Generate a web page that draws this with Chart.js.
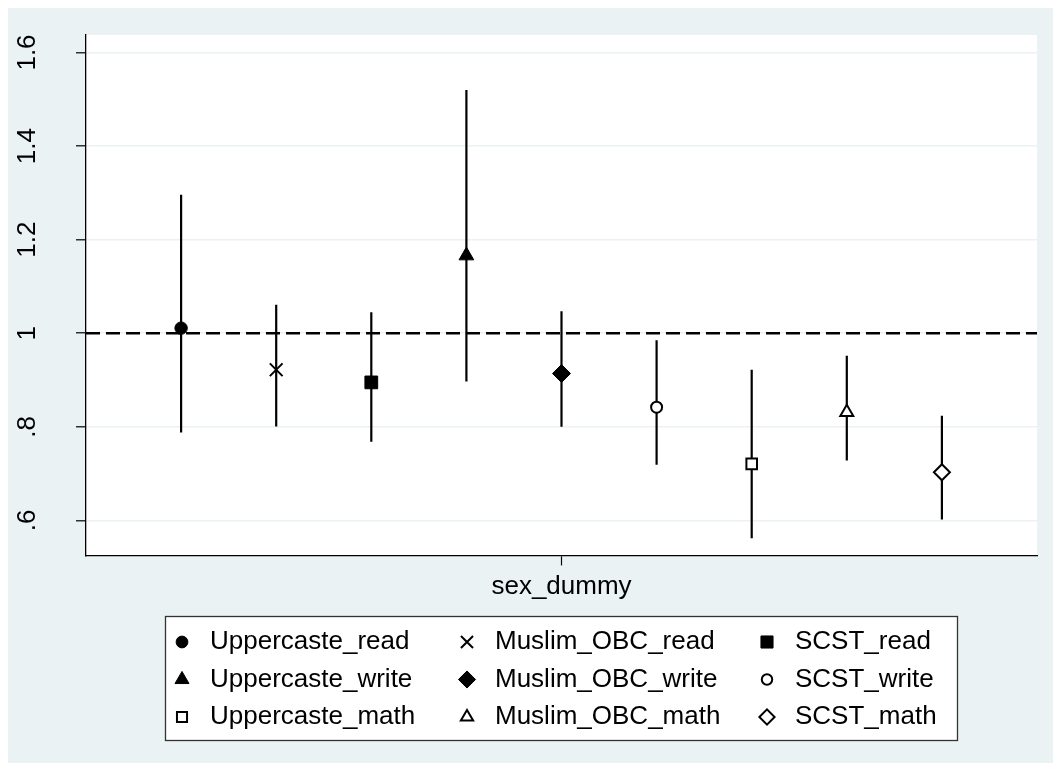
<!DOCTYPE html>
<html>
<head>
<meta charset="utf-8">
<script src="https://cdn.jsdelivr.net/npm/chart.js@4.4.1/dist/chart.umd.min.js"></script>
<style>
  html, body { margin: 0; padding: 0; background: #ffffff; }
  #wrap { width: 1053px; height: 771px; position: relative; }
</style>
</head>
<body>
<div id="wrap"><canvas id="c"></canvas></div>
<script>
// ---------------- data ----------------
const seriesNames = ['Uppercaste_read', 'Muslim_OBC_read', 'SCST_read',
                     'Uppercaste_write', 'Muslim_OBC_write', 'SCST_write',
                     'Uppercaste_math', 'Muslim_OBC_math', 'SCST_math'];
const estimates = [1.011, 0.922, 0.895, 1.166, 0.914, 0.842, 0.721, 0.831, 0.703];
const ciLower   = [0.788, 0.801, 0.768, 0.897, 0.800, 0.719, 0.562, 0.728, 0.602];
const ciUpper   = [1.296, 1.061, 1.045, 1.520, 1.047, 0.985, 0.922, 0.952, 0.824];
const categoryLabel = 'sex_dummy';
const yTickValues = [0.6, 0.8, 1, 1.2, 1.4, 1.6];
const yTickLabels = ['.6', '.8', '1', '1.2', '1.4', '1.6'];
const referenceValue = 1;

// ---------------- styles ----------------
const FONT = '"Liberation Sans", Arial, Helvetica, sans-serif';
const BG = '#EAF2F3';
const markerStyles = [
  { style: 'circle',   r: 6.2, filled: true  },
  { style: 'crossRot', r: 9,   filled: false },
  { style: 'rect',     r: 9,   filled: true  },
  { style: 'triangle', r: 8.5, filled: true  },
  { style: 'rectRot',  r: 9,   filled: true  },
  { style: 'circle',   r: 5.5, filled: false },
  { style: 'rect',     r: 7.5, filled: false },
  { style: 'triangle', r: 7.5, filled: false },
  { style: 'rectRot',  r: 8,   filled: false }
];

const n = seriesNames.length;
const xOf = i => i - (n - 1) / 2;
const xMin = -(n + 1) / 2, xMax = (n + 1) / 2;

const datasets = [];
seriesNames.forEach((name, i) => {
  const m = markerStyles[i];
  datasets.push({
    type: 'scatter', label: name,
    data: [{ x: xOf(i), y: estimates[i] }],
    pointStyle: m.style, pointRadius: m.r, pointHoverRadius: m.r,
    pointBackgroundColor: m.filled ? '#000' : '#fff',
    pointBorderColor: '#000',
    pointBorderWidth: (m.filled ? 1 : 2),
    order: 0
  });
});
seriesNames.forEach((name, i) => {
  datasets.push({
    type: 'line', label: name + ' CI',
    data: [{ x: xOf(i), y: ciLower[i] }, { x: xOf(i), y: ciUpper[i] }],
    borderColor: '#000', borderWidth: 2.2, pointRadius: 0, fill: false, order: 1
  });
});
datasets.push({
  type: 'line', label: 'reference',
  data: [{ x: xMin, y: referenceValue }, { x: xMax, y: referenceValue }],
  borderColor: '#000', borderWidth: 2.6, borderDash: [14, 6], pointRadius: 0, fill: false, order: 2
});

// background: graph region + white plot region
const bgPlugin = {
  id: 'bg',
  beforeDraw(chart) {
    const { ctx, width, height, chartArea: a } = chart;
    ctx.save();
    ctx.fillStyle = '#ffffff';
    ctx.fillRect(0, 0, width, height);
    ctx.fillStyle = BG;
    ctx.fillRect(8, 8, width - 8, height - 16);
    ctx.fillStyle = '#ffffff';
    ctx.fillRect(a.left, a.top, a.right - a.left, a.bottom - a.top);
    ctx.restore();
  }
};

// boxed 3-column legend (Stata style)
const legendLayout = { boxX: 165, boxY: 616, boxW: 792, boxH: 124,
                       colMarkerX: [182, 467, 767], textGap: 28, rowY: [642, 679.5, 717] };
const legendPlugin = {
  id: 'boxLegend',
  afterDraw(chart) {
    const ctx = chart.ctx;
    const L = legendLayout;
    ctx.save();
    ctx.fillStyle = '#ffffff';
    ctx.fillRect(L.boxX, L.boxY, L.boxW, L.boxH);
    ctx.strokeStyle = '#333333';
    ctx.lineWidth = 1.3;
    ctx.strokeRect(L.boxX + 0.5, L.boxY + 0.5, L.boxW, L.boxH);
    seriesNames.forEach((name, i) => {
      const row = Math.floor(i / 3), col = i % 3;
      const mx = L.colMarkerX[col], my = L.rowY[row];
      const m = markerStyles[i];
      ctx.fillStyle = m.filled ? '#000' : '#fff';
      ctx.strokeStyle = '#000';
      ctx.lineWidth = m.filled ? 1 : 2;
      ctx.setLineDash([]);
      Chart.helpers.drawPoint(ctx, { pointStyle: m.style, rotation: 0, radius: m.r * 0.95,
                                     borderWidth: ctx.lineWidth }, mx, my);
      ctx.fillStyle = '#000';
      ctx.font = '26px ' + FONT;
      ctx.textAlign = 'left';
      ctx.textBaseline = 'middle';
      ctx.fillText(name, mx + L.textGap, my);
    });
    ctx.restore();
  }
};

new Chart(document.getElementById('c'), {
  type: 'scatter',
  data: { datasets },
  options: {
    responsive: true,
    maintainAspectRatio: false,
    animation: false,
    events: [],
    layout: { padding: { top: 35, right: 16, bottom: 168.4, left: 0 } },
    plugins: { legend: { display: false }, tooltip: { enabled: false } },
    scales: {
      x: {
        type: 'linear', min: xMin, max: xMax,
        afterBuildTicks: s => { s.ticks = [{ value: 0 }]; },
        ticks: { display: false },
        grid: { display: true, drawOnChartArea: false, drawTicks: true, tickLength: 10,
                tickColor: '#000', tickWidth: 1.2, color: '#000' },
        border: { display: true, color: '#000', width: 1.3 },
        title: { display: true, text: categoryLabel, color: '#000',
                 font: { family: FONT, size: 26 }, padding: { top: 6, bottom: 0 } }
      },
      y: {
        type: 'linear', min: 0.5253, max: 1.6374,
        afterBuildTicks: s => { s.ticks = yTickValues.map(v => ({ value: v })); },
        afterFit: s => { s.width = 86; s.paddingTop = 0; s.paddingBottom = 0; },
        ticks: {
          callback: (v, i) => yTickLabels[i],
          color: '#000', font: { family: FONT, size: 26 },
          minRotation: 90, maxRotation: 90, crossAlign: 'center', padding: 30
        },
        grid: { color: BG, lineWidth: 1.6, tickColor: '#000', tickLength: 10, tickWidth: 1.2, drawTicks: true },
        border: { display: true, color: '#000', width: 1.3 }
      }
    }
  },
  plugins: [bgPlugin, legendPlugin]
});
</script>
</body>
</html>
